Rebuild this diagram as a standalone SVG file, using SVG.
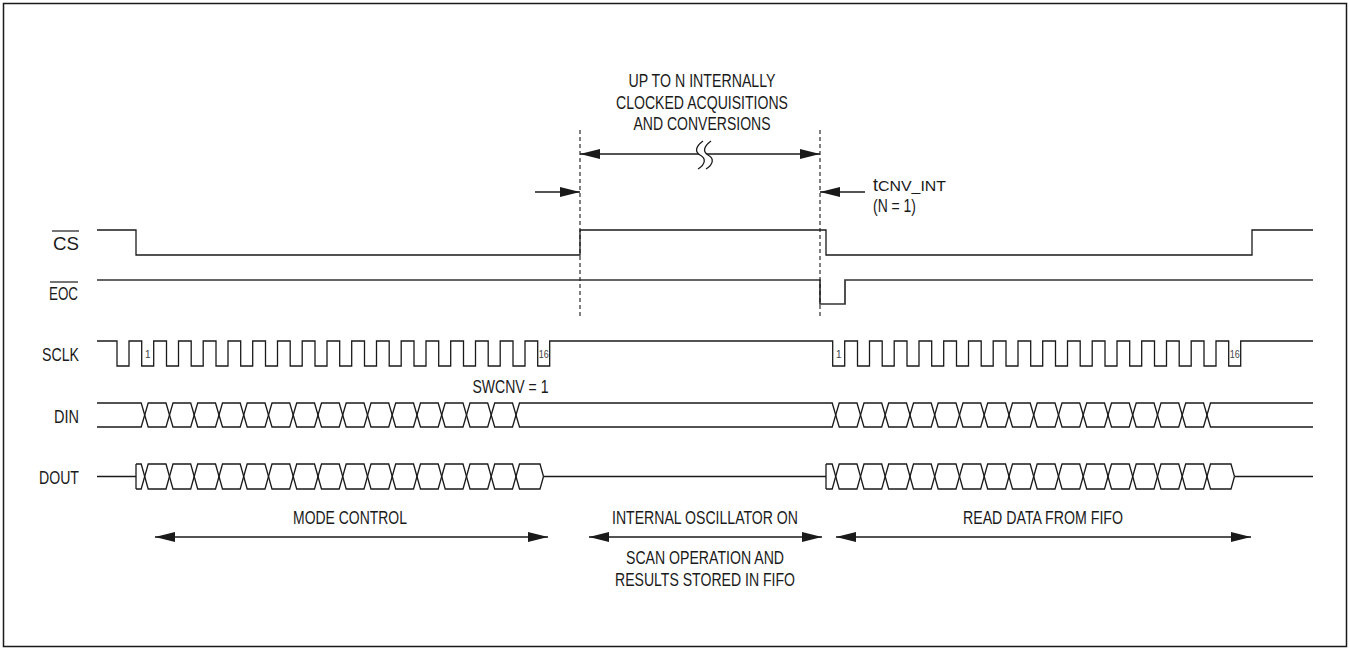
<svg xmlns="http://www.w3.org/2000/svg" width="1350" height="650" viewBox="0 0 1350 650">
<style>
.w{fill:none;stroke:#1a1a1a;stroke-width:1.3;stroke-linejoin:miter}
.eoc{fill:none;stroke:#333;stroke-width:1.7}
.d{fill:none;stroke:#1a1a1a;stroke-width:1.1;stroke-dasharray:4,3}
.t{font-family:"Liberation Sans Narrow","Liberation Sans",Arial,sans-serif;font-size:18px;fill:#1a1a1a}
.s{font-family:"Liberation Sans Narrow","Liberation Sans",Arial,sans-serif;font-size:10px;fill:#444}
.ar{fill:none;stroke:#1a1a1a;stroke-width:1.3}
.hd{fill:#1a1a1a}
</style>
<defs>
<marker id="ah" viewBox="0 0 20 10" refX="20" refY="5" markerWidth="20" markerHeight="10" markerUnits="userSpaceOnUse" orient="auto-start-reverse">
<path d="M0,0 L20,5 L0,10 Z" class="hd"/>
</marker>
</defs>
<rect x="0" y="0" width="1350" height="650" fill="#fff"/>
<rect x="3.5" y="3.5" width="1343" height="643" fill="none" stroke="#1a1a1a" stroke-width="1.5"/>

<g id="labels">
<text class="t" x="79" y="250" text-anchor="end" textLength="26" lengthAdjust="spacingAndGlyphs">CS</text>
<line x1="52" y1="231" x2="79" y2="231" stroke="#1a1a1a" stroke-width="1.2"/>
<text class="t" x="78" y="300" text-anchor="end" textLength="29" lengthAdjust="spacingAndGlyphs">EOC</text>
<line x1="50" y1="282" x2="78" y2="282" stroke="#1a1a1a" stroke-width="1.2"/>
<text class="t" x="79" y="361" text-anchor="end" textLength="37" lengthAdjust="spacingAndGlyphs">SCLK</text>
<text class="t" x="79" y="423" text-anchor="end" textLength="25" lengthAdjust="spacingAndGlyphs">DIN</text>
<text class="t" x="79" y="483.5" text-anchor="end" textLength="40" lengthAdjust="spacingAndGlyphs">DOUT</text>
</g>

<g id="cs">
<path class="w" d="M97,230 H136 V255 H580 V230 H826 V255 H1252 V230 H1313"/>
</g>

<g id="eoc">
<path class="eoc" d="M97,280 H820 V304 H845 V280 H1313"/>
</g>

<g id="sclk">
<path class="w" d="M97,341 H117 V366 H129 V341 H141.7 V366 H153.7 V341 H166.5 V366 H178.5 V341 H191.2 V366 H203.2 V341 H216 V366 H228 V341 H240.7 V366 H252.7 V341 H265.5 V366 H277.5 V341 H290.2 V366 H302.2 V341 H315 V366 H327 V341 H339.7 V366 H351.7 V341 H364.5 V366 H376.5 V341 H389.2 V366 H401.2 V341 H414 V366 H426 V341 H438.7 V366 H450.7 V341 H463.5 V366 H475.5 V341 H488.2 V366 H500.2 V341 H513 V366 H525 V341 H537.7 V366 H549.7 V341 H832.7 V366 H844.7 V341 H857.5 V366 H869.5 V341 H882.2 V366 H894.2 V341 H907 V366 H919 V341 H931.7 V366 H943.7 V341 H956.5 V366 H968.5 V341 H981.2 V366 H993.2 V341 H1006 V366 H1018 V341 H1030.7 V366 H1042.7 V341 H1055.5 V366 H1067.5 V341 H1080.2 V366 H1092.2 V341 H1105 V366 H1117 V341 H1129.7 V366 H1141.7 V341 H1154.5 V366 H1166.5 V341 H1179.2 V366 H1191.2 V341 H1204 V366 H1216 V341 H1228.7 V366 H1240.7 V341 H1313"/>
<text class="s" x="147.7" y="358" text-anchor="middle">1</text>
<text class="s" x="543.7" y="358" text-anchor="middle" textLength="10" lengthAdjust="spacingAndGlyphs">16</text>
<text class="s" x="838.7" y="358" text-anchor="middle">1</text>
<text class="s" x="1234.7" y="358" text-anchor="middle" textLength="10" lengthAdjust="spacingAndGlyphs">16</text>
</g>

<g id="din">
<path class="w" d="M97,403 H141.2 L148.2,427 H166 L173,403 H190.7 L197.7,427 H215.5 L222.5,403 H240.2 L247.2,427 H265 L272,403 H289.7 L296.7,427 H314.5 L321.5,403 H339.2 L346.2,427 H364 L371,403 H388.7 L395.7,427 H413.5 L420.5,403 H438.2 L445.2,427 H463 L470,403 H487.7 L494.7,427 H512.5 L519.5,403 H832.2 L839.2,427 H857 L864,403 H881.7 L888.7,427 H906.5 L913.5,403 H931.2 L938.2,427 H956 L963,403 H980.7 L987.7,427 H1005.5 L1012.5,403 H1030.2 L1037.2,427 H1055 L1062,403 H1079.7 L1086.7,427 H1104.5 L1111.5,403 H1129.2 L1136.2,427 H1154 L1161,403 H1178.7 L1185.7,427 H1203.5 L1210.5,403 H1313"/>
<path class="w" d="M97,427 H141.2 L148.2,403 H166 L173,427 H190.7 L197.7,403 H215.5 L222.5,427 H240.2 L247.2,403 H265 L272,427 H289.7 L296.7,403 H314.5 L321.5,427 H339.2 L346.2,403 H364 L371,427 H388.7 L395.7,403 H413.5 L420.5,427 H438.2 L445.2,403 H463 L470,427 H487.7 L494.7,403 H512.5 L519.5,427 H832.2 L839.2,403 H857 L864,427 H881.7 L888.7,403 H906.5 L913.5,427 H931.2 L938.2,403 H956 L963,427 H980.7 L987.7,403 H1005.5 L1012.5,427 H1030.2 L1037.2,403 H1055 L1062,427 H1079.7 L1086.7,403 H1104.5 L1111.5,427 H1129.2 L1136.2,403 H1154 L1161,427 H1178.7 L1185.7,403 H1203.5 L1210.5,427 H1313"/>
<text class="t" x="510.5" y="393" text-anchor="middle" textLength="76" lengthAdjust="spacingAndGlyphs">SWCNV = 1</text>
</g>

<g id="dout">
<path class="w" d="M97,476.5 H136 M543.5,476.5 H826 M1234.5,476.5 H1313 M136,464 V489 M826,464 V489"/>
<path class="w" d="M136,464 H141.2 L148.2,489 H166 L173,464 H190.7 L197.7,489 H215.5 L222.5,464 H240.2 L247.2,489 H265 L272,464 H289.7 L296.7,489 H314.5 L321.5,464 H339.2 L346.2,489 H364 L371,464 H388.7 L395.7,489 H413.5 L420.5,464 H438.2 L445.2,489 H463 L470,464 H487.7 L494.7,489 H512.5 L519.5,464 H540 L543.5,476.5"/>
<path class="w" d="M136,489 H141.2 L148.2,464 H166 L173,489 H190.7 L197.7,464 H215.5 L222.5,489 H240.2 L247.2,464 H265 L272,489 H289.7 L296.7,464 H314.5 L321.5,489 H339.2 L346.2,464 H364 L371,489 H388.7 L395.7,464 H413.5 L420.5,489 H438.2 L445.2,464 H463 L470,489 H487.7 L494.7,464 H512.5 L519.5,489 H540 L543.5,476.5"/>
<path class="w" d="M826,464 H832.2 L839.2,489 H857 L864,464 H881.7 L888.7,489 H906.5 L913.5,464 H931.2 L938.2,489 H956 L963,464 H980.7 L987.7,489 H1005.5 L1012.5,464 H1030.2 L1037.2,489 H1055 L1062,464 H1079.7 L1086.7,489 H1104.5 L1111.5,464 H1129.2 L1136.2,489 H1154 L1161,464 H1178.7 L1185.7,489 H1203.5 L1210.5,464 H1231 L1234.5,476.5"/>
<path class="w" d="M826,489 H832.2 L839.2,464 H857 L864,489 H881.7 L888.7,464 H906.5 L913.5,489 H931.2 L938.2,464 H956 L963,489 H980.7 L987.7,464 H1005.5 L1012.5,489 H1030.2 L1037.2,464 H1055 L1062,489 H1079.7 L1086.7,464 H1104.5 L1111.5,489 H1129.2 L1136.2,464 H1154 L1161,489 H1178.7 L1185.7,464 H1203.5 L1210.5,489 H1231 L1234.5,476.5"/>
</g>

<g id="annotations">
<text class="t" x="702" y="87" text-anchor="middle" textLength="147" lengthAdjust="spacingAndGlyphs">UP TO N INTERNALLY</text>
<text class="t" x="702" y="109" text-anchor="middle" textLength="172" lengthAdjust="spacingAndGlyphs">CLOCKED ACQUISITIONS</text>
<text class="t" x="702" y="130" text-anchor="middle" textLength="137" lengthAdjust="spacingAndGlyphs">AND CONVERSIONS</text>
<text class="t" x="873" y="191">t<tspan font-size="14" textLength="68" lengthAdjust="spacingAndGlyphs">CNV_INT</tspan></text>
<text class="t" x="873" y="212" textLength="43" lengthAdjust="spacingAndGlyphs">(N = 1)</text>
<text class="t" x="350" y="524" text-anchor="middle" textLength="114" lengthAdjust="spacingAndGlyphs">MODE CONTROL</text>
<text class="t" x="705" y="524" text-anchor="middle" textLength="186" lengthAdjust="spacingAndGlyphs">INTERNAL OSCILLATOR ON</text>
<text class="t" x="1043" y="524" text-anchor="middle" textLength="160" lengthAdjust="spacingAndGlyphs">READ DATA FROM FIFO</text>
<text class="t" x="705" y="564" text-anchor="middle" textLength="158" lengthAdjust="spacingAndGlyphs">SCAN OPERATION AND</text>
<text class="t" x="705" y="586" text-anchor="middle" textLength="180" lengthAdjust="spacingAndGlyphs">RESULTS STORED IN FIFO</text>
</g>

<g id="connectors">
<path class="d" d="M580,130 V317 M820,130 V317"/>
<line class="ar" x1="580" y1="154" x2="820" y2="154" marker-start="url(#ah)" marker-end="url(#ah)"/>
<path d="M703,141 C695,147 695,152 700,155 C706,158 706,164 698,169 L706,169 C714,164 714,158 708,155 C703,152 703,147 711,141 Z" fill="#fff"/>
<path class="ar" d="M703,141 C695,147 695,152 700,155 C706,158 706,164 698,169 M711,141 C703,147 703,152 708,155 C714,158 714,164 706,169"/>
<line class="ar" x1="535" y1="192" x2="580" y2="192" marker-end="url(#ah)"/>
<line class="ar" x1="865" y1="192" x2="820" y2="192" marker-end="url(#ah)"/>
<line class="ar" x1="155" y1="537" x2="548" y2="537" marker-start="url(#ah)" marker-end="url(#ah)"/>
<line class="ar" x1="589" y1="537" x2="822" y2="537" marker-start="url(#ah)" marker-end="url(#ah)"/>
<line class="ar" x1="836" y1="537" x2="1251" y2="537" marker-start="url(#ah)" marker-end="url(#ah)"/>
</g>
</svg>
